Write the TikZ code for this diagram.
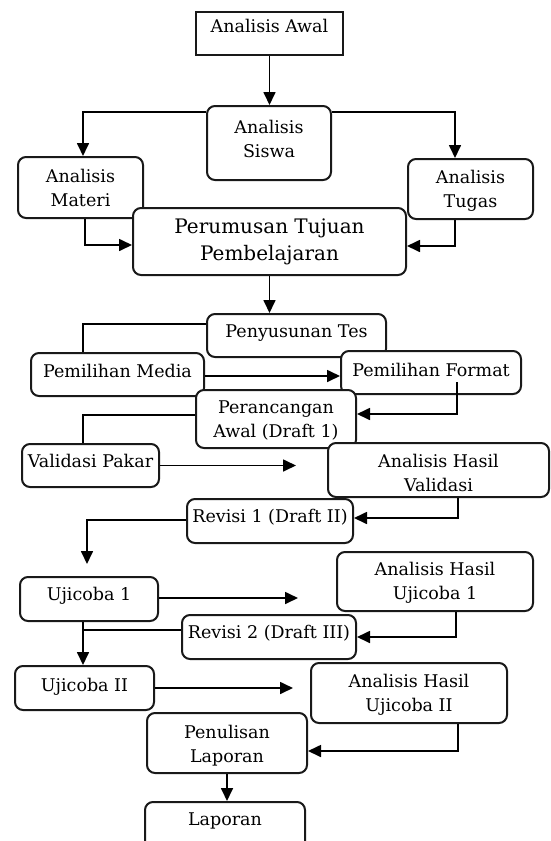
\documentclass[tikz,border=0pt]{standalone}
\usepackage{fontspec}
\setmainfont{DejaVu Serif}
\usetikzlibrary{arrows.meta}
\newcommand{\bt}[4]{\parbox[c][#2pt][t]{#1pt}{\centering\rule{0pt}{#3pt}#4\par}}
\begin{document}
\begin{tikzpicture}[x=1pt,y=-1pt,
  base/.style={draw=black!90, line width=2pt, fill=white, inner sep=0pt,
    font=\fontsize{17.5}{24}\selectfont, text=black},
  rbox/.style={base, rounded corners=8pt},
  sbox/.style={base},
  bigtext/.style={font=\fontsize{20}{27}\selectfont},
  conn/.style={line width=1.7pt, draw=black},
  arr/.style={conn, -{Triangle[length=13pt,width=12pt]}},
]
\clip (0,0) rectangle (550,841);

\node[sbox] (awal) at (269.5,33.5) {\bt{147}{43}{20}{Analisis Awal}};
\node[rbox] (siswa) at (269,143) {\bt{124}{74}{27}{Analisis\\Siswa}};
\node[rbox] (materi) at (80.5,187.5) {\bt{125}{61}{25}{Analisis\\Materi}};
\node[rbox] (tugas) at (470.5,189) {\bt{125}{60}{24}{Analisis\\Tugas}};
\node[rbox,bigtext] (perumusan) at (269.5,241.5) {\bt{273}{67}{25}{Perumusan Tujuan\\Pembelajaran}};
\node[rbox] (penyusunan) at (296.5,335.5) {\bt{179}{43}{23}{Penyusunan Tes}};
\node[rbox] (media) at (117.5,374.5) {\bt{173}{43}{24}{Pemilihan Media}};
\node[rbox] (format) at (431,372.5) {\bt{180}{43}{25}{Pemilihan Format}};
\node[rbox] (perancangan) at (276,419) {\bt{160}{58}{23}{Perancangan\\Awal (Draft 1)}};
\node[rbox] (validasi) at (90.5,465.5) {\bt{137}{43}{23}{Validasi Pakar}};
\node[rbox] (ahv) at (438.5,470) {\bt{221}{54}{24}{Analisis Hasil\\Validasi}};
\node[rbox] (revisi1) at (270,521) {\bt{166}{44}{23}{Revisi 1 (Draft II)}};
\node[rbox] (ahu1) at (435,581.5) {\bt{196}{59}{23}{Analisis Hasil\\Ujicoba 1}};
\node[rbox] (ujicoba1) at (89,599) {\bt{138}{44}{23}{Ujicoba 1}};
\node[rbox] (revisi2) at (269,637) {\bt{174}{44}{23}{Revisi 2 (Draft III)}};
\node[rbox] (ujicoba2) at (84.5,688) {\bt{139}{44}{25}{Ujicoba II}};
\node[rbox] (ahu2) at (409,693) {\bt{196}{60}{24}{Analisis Hasil\\Ujicoba II}};
\node[rbox] (penulisan) at (227,743) {\bt{160}{60}{25}{Penulisan\\Laporan}};
\node[rbox] (laporan) at (225,836) {\bt{160}{68}{23}{Laporan}};

% connectors
\draw[arr] (awal.south) -- (awal.south |- siswa.north);
\draw[arr] ([yshift=31pt]siswa.west) -| ([xshift=2.5pt]materi.north);
\draw[arr] ([yshift=31pt]siswa.east) -| ([xshift=-15.5pt]tugas.north);
\draw[arr] ([xshift=4.5pt]materi.south) |- ([yshift=-3.5pt]perumusan.west);
\draw[arr] ([xshift=-15.5pt]tugas.south) |- ([yshift=-4.5pt]perumusan.east);
\draw[arr] (perumusan.south) -- (perumusan.south |- penyusunan.north);
\draw[conn] ([yshift=11.5pt]penyusunan.west) -| ([xshift=-34.5pt]media.north);
\coordinate (m1) at ([yshift=-1.5pt]media.east);
\draw[arr] (m1) -- (m1 -| format.west);
\coordinate (f1) at ([xshift=26pt,yshift=-9.5pt]format.center);
\draw[arr] (f1) |- ([yshift=5pt]perancangan.east);
\draw[conn] ([yshift=4pt]perancangan.west) -| ([xshift=-7.5pt]validasi.north);
\coordinate (vend) at (296,465.5);
\draw[arr] (validasi.east) -- (vend);
\draw[arr] ([xshift=19.5pt]ahv.south) |- ([yshift=3pt]revisi1.east);
\coordinate (r1end) at (87,564);
\draw[arr] ([yshift=1pt]revisi1.west) -| (r1end);
\coordinate (u1end) at (298,598);
\draw[arr] ([yshift=1pt]ujicoba1.east) -- (u1end);
\draw[arr] ([xshift=21pt]ahu1.south) |- (revisi2.east);
\coordinate (u1s) at ([xshift=-6pt]ujicoba1.south);
\draw[arr] (u1s) -- (u1s |- ujicoba2.north);
\coordinate (r2w) at ([yshift=7pt]revisi2.west);
\draw[conn] (r2w) -- (r2w -| u1s);
\coordinate (u2end) at (293,688);
\draw[arr] (ujicoba2.east) -- (u2end);
\draw[arr] ([xshift=49pt]ahu2.south) |- ([yshift=-8pt]penulisan.east);
\draw[arr] (penulisan.south) -- (penulisan.south |- laporan.north);
\end{tikzpicture}
\end{document}
